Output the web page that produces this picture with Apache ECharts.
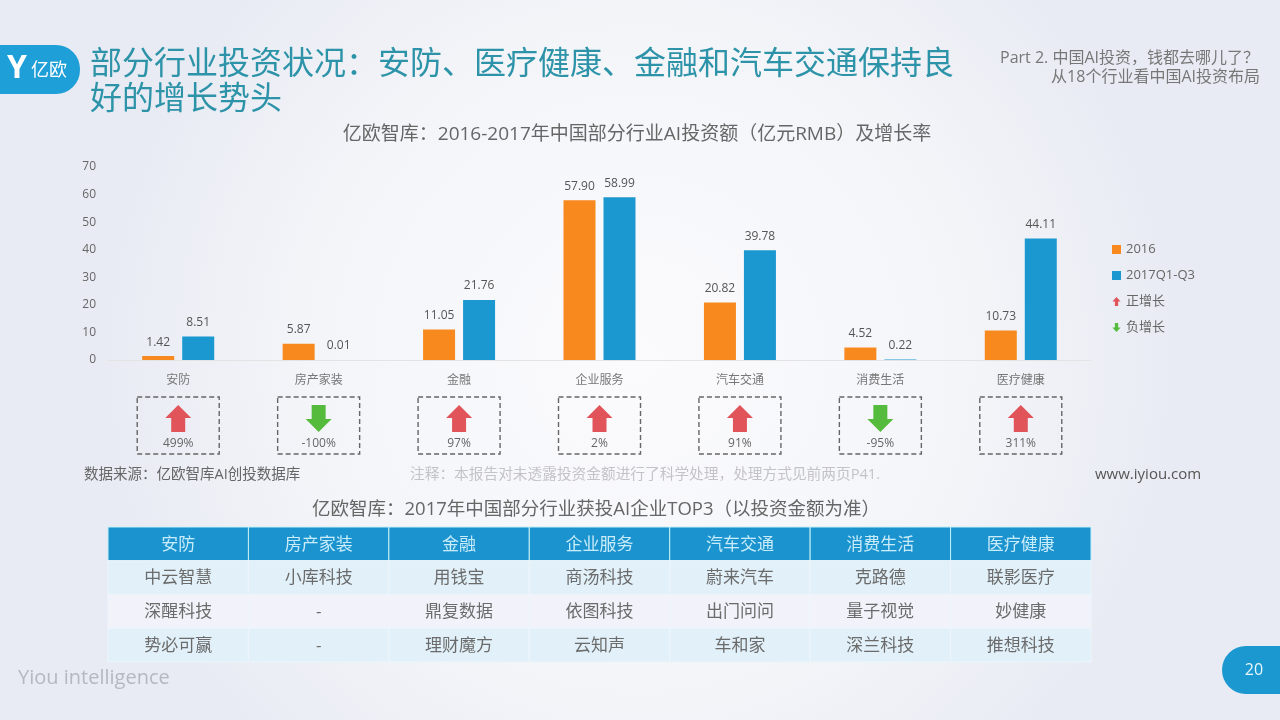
<!DOCTYPE html>
<html><head><meta charset="utf-8">
<style>html,body{margin:0;padding:0;background:#f0f1f7}#c{width:1280px;height:720px}</style>
<script src="https://cdn.jsdelivr.net/npm/echarts@6/dist/echarts.min.js"></script>
</head><body><div id="c"></div>
<script>
const categories = ['安防','房产家装','金融','企业服务','汽车交通','消费生活','医疗健康'];
const values2016 = [1.42,5.87,11.05,57.90,20.82,4.52,10.73];
const values2017 = [8.51,0.01,21.76,58.99,39.78,0.22,44.11];
const growth = [499,-100,97,2,91,-95,311];
const rowFirst = ['中云智慧','小库科技','用钱宝','商汤科技','蔚来汽车','克路德','联影医疗'];
const rowSecond = ['深醒科技','-','鼎复数据','依图科技','出门问问','量子视觉','妙健康'];
const rowThird = ['势必可赢','-','理财魔方','云知声','车和家','深兰科技','推想科技'];
const titleLines = ['部分行业投资状况\uFF1A安防、医疗健康、金融和汽车交通保持良','好的增长势头'];
const chartTitle = '亿欧智库\uFF1A2016-2017年中国部分行业AI投资额\uFF08亿元RMB\uFF09及增长率';
const tableTitle = '亿欧智库\uFF1A2017年中国部分行业获投AI企业TOP3\uFF08以投资金额为准\uFF09';
const partLines = ['Part 2. 中国AI投资\uFF0C钱都去哪儿了\uFF1F','从18个行业看中国AI投资布局'];
const sourceNote = '数据来源\uFF1A亿欧智库AI创投数据库';
const remarkNote = '注释\uFF1A本报告对未透露投资金额进行了科学处理\uFF0C处理方式见前两页P41.';

const FONT = '"Open Sans","Noto Sans CJK SC",sans-serif';
const UP = 'path://M5 0L10 5.5H7V11H3V5.5H0Z';
const DOWN = 'path://M3 0H7V5.5H10L5 11L0 5.5H3Z';
const tableRows = [categories,rowFirst,rowSecond,rowThird];
const tableData = [];
tableRows.forEach((r,ri)=>r.forEach((t,ci)=>tableData.push([ci,ri,t])));

function renderGrowth(params,api){
  const c = api.coord([api.value(0),0.5]);
  const g = growth[params.dataIndex];
  const cx = c[0], top = c[1]-29, h = 57, w = 82, pos = g>=0;
  const col = pos?'#e0545a':'#55bb3c';
  const aT = top+8, aB = top+35;
  const pts = pos
    ? [[cx,aT],[cx+13,aT+13],[cx+7,aT+13],[cx+7,aB],[cx-7,aB],[cx-7,aT+13],[cx-13,aT+13]]
    : [[cx-7,aT],[cx+7,aT],[cx+7,aB-13],[cx+13,aB-13],[cx,aB],[cx-13,aB-13],[cx-7,aB-13]];
  return {type:'group',children:[
    {type:'rect',shape:{x:cx-w/2,y:top,width:w,height:h},style:{fill:'transparent',stroke:'#666',lineWidth:1.4,lineDash:[5,3]}},
    {type:'polygon',shape:{points:pts},style:{fill:col}},
    {type:'text',style:{x:cx,y:top+47,text:g+'%',fill:'#666',font:'12px '+FONT,align:'center',verticalAlign:'middle'}}
  ]};
}
function renderTable(params,api){
  const d = tableData[params.dataIndex];
  const c = api.coord([d[0],d[1]]);
  const s = api.size([1,1]);
  const x = c[0]-s[0]/2, y = c[1]-s[1]/2;
  const head = d[1]===0;
  const fill = head?'#1b93cf':(d[1]===2?'#f2f3fa':'#e2f1f9');
  return {type:'group',children:[
    {type:'rect',shape:{x:x,y:y,width:s[0],height:s[1]},style:{fill:fill,stroke:head?'#c4f0f5':'#edf5fa',lineWidth:1}},
    {type:'text',style:{x:c[0],y:c[1]+1,text:d[2],fill:head?'#c8ecfa':'#6b6b6b',font:'17px '+FONT,align:'center',verticalAlign:'middle'}}
  ]};
}
const label = {show:true,position:'top',distance:8,color:'#555',fontSize:12,fontFamily:FONT,formatter:p=>p.value.toFixed(2)};
const txt = (x,y,text,fill,size,align,extra)=>({type:'text',x:x,y:y,silent:true,style:Object.assign({text:text,fill:fill,font:size+'px '+FONT,align:align||'left',verticalAlign:'middle'},extra||{})});

const chart = echarts.init(document.getElementById('c'),null,{width:1280,height:720});
chart.setOption({
  animation:false,
  backgroundColor:{type:'radial',x:0.5,y:0.5,r:0.75,colorStops:[{offset:0,color:'#fbfbfd'},{offset:0.6,color:'#f4f5f9'},{offset:1,color:'#e8ebf3'}]},
  textStyle:{fontFamily:FONT},
  legend:{orient:'vertical',left:1107,top:238,itemWidth:9,itemHeight:9,itemGap:13,
    textStyle:{color:'#666',fontSize:13,fontFamily:FONT},
    data:[{name:'2016',icon:'rect'},{name:'2017Q1-Q3',icon:'rect'},{name:'正增长',icon:UP},{name:'负增长',icon:DOWN}]},
  grid:[
    {left:108,top:167,width:983,height:193},
    {left:108,top:397,width:983,height:58},
    {left:108,top:527,width:983,height:135}
  ],
  xAxis:[
    {type:'category',gridIndex:0,data:categories,axisTick:{show:false},axisLine:{lineStyle:{color:'#e3e3e3'}},
      axisLabel:{color:'#777',fontSize:12,margin:15,fontFamily:FONT}},
    {type:'category',gridIndex:1,data:categories,show:false},
    {type:'category',gridIndex:2,data:categories,show:false}
  ],
  yAxis:[
    {type:'value',gridIndex:0,min:0,max:70,interval:10,splitLine:{show:false},axisLine:{show:false},axisTick:{show:false},
      axisLabel:{color:'#666',fontSize:12,margin:12,fontFamily:FONT}},
    {type:'value',gridIndex:1,min:0,max:1,show:false},
    {type:'category',gridIndex:2,inverse:true,data:[0,1,2,3],show:false}
  ],
  series:[
    {name:'2016',type:'bar',data:values2016,barWidth:32,barGap:'25%',itemStyle:{color:'#f7891e'},label:label},
    {name:'2017Q1-Q3',type:'bar',data:values2017,barWidth:32,itemStyle:{color:'#1b98d0'},label:label},
    {name:'正增长',type:'custom',xAxisIndex:1,yAxisIndex:1,data:[],renderItem:renderGrowth,itemStyle:{color:'#e0545a'}},
    {name:'负增长',type:'custom',xAxisIndex:1,yAxisIndex:1,data:[],renderItem:renderGrowth,itemStyle:{color:'#55bb3c'}},
    {type:'custom',xAxisIndex:1,yAxisIndex:1,data:growth.map((g,i)=>[i,g]),renderItem:renderGrowth,silent:true,clip:false},
    {type:'custom',xAxisIndex:2,yAxisIndex:2,data:tableData.map(d=>[d[0],d[1]]),renderItem:renderTable,silent:true,clip:false}
  ],
  graphic:[
    {type:'rect',shape:{x:0,y:45,width:80,height:49,r:[0,24,24,0]},style:{fill:'#1f9fd8'},silent:true},
    txt(17,69,'Y','#fff',32,'center',{font:'bold 32px '+FONT}),
    txt(31,71,'亿欧','#fff',18),
    txt(90,65,titleLines[0],'#2d93a8',32),
    txt(90,100,titleLines[1],'#2d93a8',32),
    txt(1000,58,partLines[0],'#777',16),
    txt(1260,77,partLines[1],'#777',16,'right'),
    txt(637,135,chartTitle,'#666',19,'center'),
    txt(84,475,sourceNote,'#666',14.5),
    txt(410,475,remarkNote,'#c4c4c8',14.7),
    txt(1095,475,'www.iyiou.com','#555',15),
    txt(596,510,tableTitle,'#666',18.5,'center'),
    txt(18,678,'Yiou intelligence','#b4b8c0',20),
    {type:'rect',shape:{x:1222,y:646,width:58,height:48,r:[24,0,0,24]},style:{fill:'#1b98d0'},silent:true},
    txt(1254,670,'20','#e8f6fc',16,'center')
  ]
});
</script></body></html>
